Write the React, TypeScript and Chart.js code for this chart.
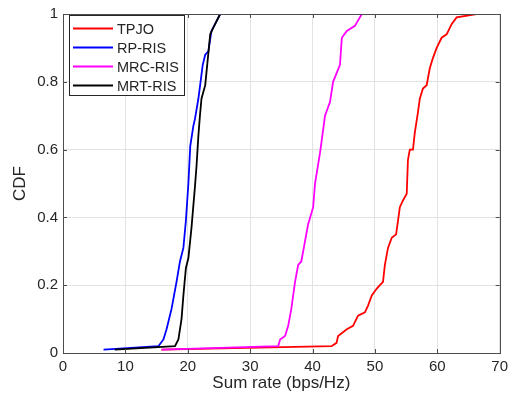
import React, { useEffect, useRef } from "react";
import { Chart, registerables } from "chart.js";

Chart.register(...registerables);

const seriesNames = ["TPJO", "RP-RIS", "MRC-RIS", "MRT-RIS"];
const seriesColors = ["#ff0000", "#0000ff", "#ff00ff", "#000000"];

const tpjoX = [15.8, 43.05, 43.85, 44.1, 45.5, 46.5, 47.3, 48.4, 48.9, 49.5, 50.3, 50.8, 51.3, 51.6, 52.1, 52.7, 53.4, 53.7, 54.0, 54.5, 55.1, 55.3, 55.6, 56.1, 56.4, 56.9, 57.2, 57.7, 58.3, 58.8, 59.3, 59.9, 60.7, 61.5, 62.3, 63.1, 66.3];
const tpjoY = [0.01, 0.02, 0.03, 0.05, 0.07, 0.08, 0.11, 0.12, 0.14, 0.17, 0.19, 0.2, 0.21, 0.26, 0.31, 0.34, 0.35, 0.39, 0.43, 0.45, 0.47, 0.57, 0.6, 0.6, 0.65, 0.71, 0.75, 0.78, 0.79, 0.84, 0.87, 0.9, 0.93, 0.94, 0.97, 0.99, 1.0];

const rpX = [6.5, 15.3, 16.1, 16.6, 17.4, 18.2, 18.75, 19.3, 19.7, 20.1, 20.4, 20.9, 21.15, 21.7, 22.4, 22.8, 23.3, 23.8, 25.2];
const rpY = [0.01, 0.02, 0.04, 0.07, 0.13, 0.21, 0.27, 0.31, 0.39, 0.5, 0.61, 0.67, 0.69, 0.75, 0.85, 0.88, 0.89, 0.95, 1.0];

const mrcX = [15.8, 34.5, 34.8, 35.6, 36.1, 36.6, 37.2, 37.7, 38.2, 38.8, 39.3, 40.1, 40.4, 41.2, 41.5, 42.0, 42.8, 43.3, 44.4, 44.7, 45.5, 46.8, 47.9];
const mrcY = [0.01, 0.02, 0.04, 0.05, 0.08, 0.13, 0.21, 0.26, 0.27, 0.33, 0.38, 0.43, 0.5, 0.59, 0.63, 0.7, 0.74, 0.8, 0.85, 0.93, 0.95, 0.965, 1.0];

const mrtX = [8.3, 17.95, 18.5, 19.0, 19.3, 19.7, 20.1, 20.6, 21.15, 21.4, 21.7, 21.95, 22.2, 22.8, 23.6, 24.1, 25.2];
const mrtY = [0.01, 0.02, 0.04, 0.1, 0.17, 0.25, 0.28, 0.37, 0.49, 0.55, 0.64, 0.7, 0.75, 0.79, 0.94, 0.96, 1.0];

const xTicks = [0, 10, 20, 30, 40, 50, 60, 70];
const yTicks = [0, 0.2, 0.4, 0.6, 0.8, 1];

const allX = [tpjoX, rpX, mrcX, mrtX];
const allY = [tpjoY, rpY, mrcY, mrtY];

const FONT = "'Liberation Sans', Arial, Helvetica, sans-serif";
const TEXT = "#262626";

const framePlugin = {
  id: "matlabFrame",
  afterDatasetsDraw(chart: any) {
    const { ctx, chartArea } = chart;
    const { left, right, top, bottom } = chartArea;
    const xs = chart.scales.x;
    const ys = chart.scales.y;
    ctx.save();
    ctx.strokeStyle = "#4d4d4d";
    ctx.lineWidth = 1;
    const tl = 4;
    ctx.beginPath();
    xTicks.forEach((v) => {
      const px = Math.round(xs.getPixelForValue(v)) + 0.5;
      ctx.moveTo(px, bottom);
      ctx.lineTo(px, bottom - tl);
      ctx.moveTo(px, top);
      ctx.lineTo(px, top + tl);
    });
    yTicks.forEach((v) => {
      const py = Math.round(ys.getPixelForValue(v)) + 0.5;
      ctx.moveTo(left, py);
      ctx.lineTo(left + tl, py);
      ctx.moveTo(right, py);
      ctx.lineTo(right - tl, py);
    });
    ctx.stroke();
    ctx.strokeRect(Math.round(left) + 0.5, Math.round(top) + 0.5, Math.round(right - left), Math.round(bottom - top));

    // legend
    const bx = 69.5, by = 15.5, bw = 115, bh = 80;
    ctx.fillStyle = "#ffffff";
    ctx.fillRect(bx, by, bw, bh);
    ctx.strokeStyle = "#262626";
    ctx.lineWidth = 1;
    ctx.strokeRect(bx, by, bw, bh);
    ctx.font = "14.5px " + FONT;
    ctx.textBaseline = "middle";
    ctx.textAlign = "left";
    seriesNames.forEach((name, i) => {
      const yy = 28.5 + i * 19;
      ctx.strokeStyle = seriesColors[i];
      ctx.lineWidth = 2;
      ctx.beginPath();
      ctx.moveTo(73, yy);
      ctx.lineTo(113, yy);
      ctx.stroke();
      ctx.fillStyle = TEXT;
      ctx.fillText(name, 117, yy + 1);
    });
    ctx.restore();
  },
};

export default function App() {
  const ref = useRef<HTMLCanvasElement | null>(null);
  useEffect(() => {
    document.body.style.margin = "0";
    const canvas = ref.current;
    if (!canvas) return;
    const orders = [4, 3, 2, 1];
    const chart = new Chart(canvas, {
      type: "line",
      data: {
        datasets: seriesNames.map((name, i) => ({
          label: name,
          data: allX[i].map((x, j) => ({ x, y: allY[i][j] })),
          borderColor: seriesColors[i],
          backgroundColor: seriesColors[i],
          borderWidth: 1.8,
          pointRadius: 0,
          tension: 0,
          fill: false,
          order: orders[i],
        })),
      },
      options: {
        responsive: false,
        animation: false,
        layout: { padding: { top: 13, right: 13, left: 0, bottom: 0 } },
        plugins: { legend: { display: false }, tooltip: { enabled: false } },
        scales: {
          x: {
            type: "linear",
            min: 0,
            max: 70,
            afterBuildTicks: (s: any) => {
              s.ticks = xTicks.map((v) => ({ value: v }));
            },
            afterFit: (s: any) => {
              s.height = 52;
            },
            grid: { color: "#e3e3e3", drawTicks: false, lineWidth: 1 },
            border: { display: false },
            ticks: {
              padding: 5,
              color: TEXT,
              font: { family: FONT, size: 15 },
              maxRotation: 0,
            },
            title: {
              display: true,
              text: "Sum rate (bps/Hz)",
              color: TEXT,
              font: { family: FONT, size: 17 },
              padding: { top: 0, bottom: 11 },
            },
          },
          y: {
            type: "linear",
            min: 0,
            max: 1,
            afterBuildTicks: (s: any) => {
              s.ticks = yTicks.map((v) => ({ value: v }));
            },
            afterFit: (s: any) => {
              s.width = 63;
            },
            grid: { color: "#e3e3e3", drawTicks: false, lineWidth: 1 },
            border: { display: false },
            ticks: {
              padding: 5,
              color: TEXT,
              font: { family: FONT, size: 15 },
              callback: (v: any) => String(Math.round(v * 10) / 10),
            },
            title: {
              display: true,
              text: "CDF",
              color: TEXT,
              font: { family: FONT, size: 17 },
              padding: { top: 10, bottom: 10 },
            },
          },
        },
      },
      plugins: [framePlugin],
    });
    return () => chart.destroy();
  }, []);
  return <canvas ref={ref} width={513} height={405} style={{ display: "block" }} />;
}
